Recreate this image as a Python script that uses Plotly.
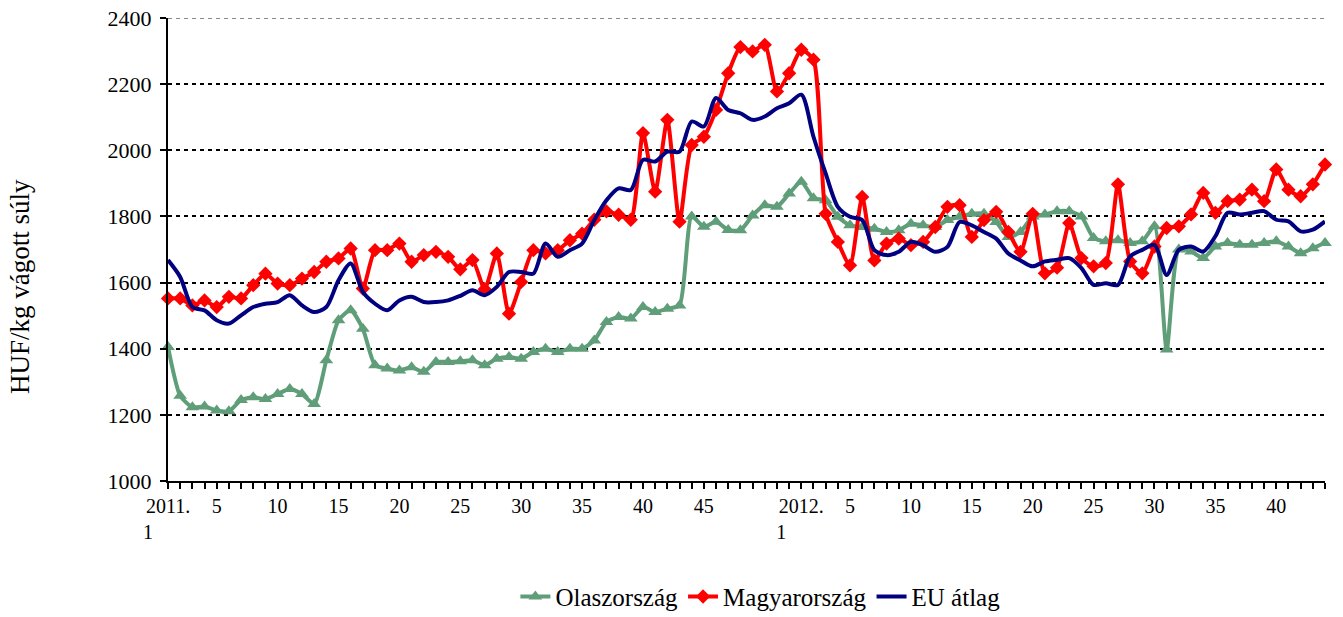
import plotly.graph_objects as go

# week categories: 2011 weeks 1-52, 2012 weeks 1-44
years = [2011] * 52 + [2012] * 44
weeks = list(range(1, 53)) + list(range(1, 45))

olasz = [1405, 1258, 1223, 1225, 1213, 1211, 1245, 1253, 1248, 1263, 1278, 1263, 1233, 1365, 1486, 1516,
         1460, 1350, 1340, 1334, 1344, 1330, 1360, 1360, 1362, 1365, 1350, 1370, 1375, 1370, 1390, 1400,
         1390, 1400, 1400, 1425, 1481, 1496, 1491, 1526, 1511, 1521, 1531, 1800, 1769, 1784, 1759, 1758,
         1803, 1834, 1829, 1869, 1905, 1855, 1849, 1799, 1773, 1768, 1763, 1753, 1758, 1778, 1773, 1768,
         1789, 1799, 1808, 1808, 1783, 1738, 1753, 1800, 1806, 1816, 1816, 1800, 1735, 1725, 1728, 1720,
         1725, 1770, 1398, 1700, 1694, 1674, 1709, 1720, 1714, 1714, 1720, 1725, 1709, 1689, 1704, 1720]

magyar = [1552, 1552, 1531, 1546, 1526, 1557, 1552, 1592, 1627, 1597, 1592, 1612, 1632, 1663, 1673, 1703,
          1582, 1698, 1698, 1718, 1663, 1683, 1693, 1678, 1640, 1668, 1580, 1688, 1506, 1602, 1698, 1688,
          1698, 1728, 1748, 1790, 1815, 1805, 1790, 2052, 1875, 2092, 1784, 2016, 2041, 2122, 2233, 2312,
          2299, 2319, 2178, 2233, 2304, 2274, 1808, 1723, 1652, 1859, 1667, 1718, 1733, 1713, 1723, 1768,
          1829, 1834, 1738, 1789, 1814, 1753, 1693, 1808, 1628, 1645, 1780, 1674, 1649, 1659, 1897, 1664,
          1628, 1709, 1765, 1770, 1806, 1871, 1811, 1846, 1851, 1881, 1846, 1942, 1881, 1861, 1897, 1957]

eu = [1668, 1617, 1526, 1516, 1486, 1476, 1501, 1526, 1536, 1541, 1562, 1531, 1511, 1526, 1607, 1658,
      1572, 1536, 1516, 1546, 1557, 1541, 1541, 1546, 1560, 1577, 1562, 1587, 1632, 1632, 1627, 1718,
      1678, 1698, 1718, 1789, 1849, 1885, 1880, 1971, 1966, 1996, 1996, 2087, 2072, 2158, 2122, 2112,
      2092, 2102, 2127, 2142, 2168, 2041, 1930, 1829, 1799, 1789, 1698, 1683, 1693, 1723, 1713, 1693,
      1708, 1783, 1773, 1753, 1733, 1688, 1667, 1649, 1664, 1669, 1674, 1644, 1593, 1598, 1593, 1679,
      1699, 1714, 1623, 1699, 1709, 1694, 1740, 1811, 1806, 1811, 1816, 1790, 1785, 1755, 1760, 1785]

FONT = "Liberation Serif, Times New Roman, serif"
NB = "\u00a0"

x = list(range(len(weeks)))
ticktext = []
for y, w in zip(years, weeks):
    if w == 1:
        ticktext.append(f"{y}.<br>1" + NB * 8)
    elif w % 5 == 0 and w < 50:
        ticktext.append(str(w))
    else:
        ticktext.append("")

fig = go.Figure()
fig.add_trace(go.Scatter(x=x, y=olasz, name="Olaszország", mode="lines+markers",
                         line=dict(color="#5f9e78", width=4, shape="spline", smoothing=0.6),
                         marker=dict(symbol="triangle-up", size=12, color="#5f9e78"),
                         cliponaxis=False))
fig.add_trace(go.Scatter(x=x, y=magyar, name="Magyarország", mode="lines+markers",
                         line=dict(color="#ff0000", width=4, shape="spline", smoothing=0.6),
                         marker=dict(symbol="diamond", size=11, color="#ff0000"),
                         cliponaxis=False))
fig.add_trace(go.Scatter(x=x, y=eu, name="EU átlag", mode="lines",
                         line=dict(color="#000080", width=4, shape="spline", smoothing=0.8),
                         cliponaxis=False))

fig.update_layout(
    width=1343, height=617,
    margin=dict(l=168, r=18, t=18, b=136, autoexpand=False),
    paper_bgcolor="white", plot_bgcolor="white",
    font=dict(family=FONT, size=20, color="black"),
    showlegend=True,
    legend=dict(orientation="h", x=0.512, xanchor="center", y=-0.25, yanchor="middle",
                font=dict(family=FONT, size=25, color="black"), itemwidth=30),
    xaxis=dict(range=[0, 95], tickmode="array", tickvals=x, ticktext=ticktext,
               ticks="outside", ticklen=6, tickcolor="black", tickwidth=1.5,
               showline=True, linecolor="black", linewidth=2, showgrid=False,
               zeroline=False, tickangle=0, tickfont=dict(family=FONT, size=20)),
    yaxis=dict(range=[1000, 2400], dtick=200, ticks="outside", ticklen=6,
               tickcolor="black", tickwidth=2, showline=True, linecolor="black",
               linewidth=2, showgrid=True, gridcolor="black", gridwidth=2,
               griddash="4px,4px", zeroline=False, ticklabelstandoff=4,
               ticklabeloverflow="allow", tickfont=dict(family=FONT, size=22)),
)

# top gridline at 2400 (plotly drops the grid line on the range edge)
fig.add_shape(type="line", xref="paper", x0=0, x1=1, yref="y", y0=2400, y1=2400,
              line=dict(color="#666666", width=1.5, dash="4px,4px"), layer="below")

fig.add_annotation(text="HUF/kg vágott súly", xref="paper", yref="paper",
                   x=(20 - 168) / 1157, y=0.419, textangle=-90, showarrow=False,
                   xanchor="center", yanchor="middle", font=dict(family=FONT, size=27))

# page body has a default 8px margin, drop it so the figure sits at 0,0
fig.write_html("out.html", config={"displayModeBar": False},
               post_script="document.body.style.margin = '0';")
